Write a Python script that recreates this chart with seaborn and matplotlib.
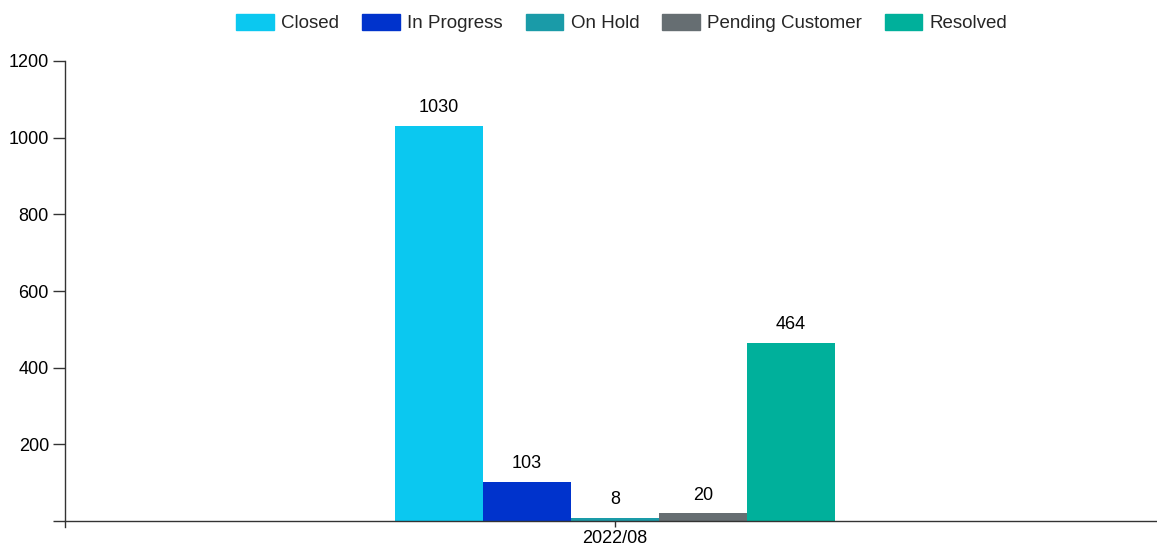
import matplotlib
matplotlib.use("Agg")
import matplotlib.pyplot as plt
import seaborn as sns
import pandas as pd

# Ticket counts per status for the month
months = ["2022/08"]
statuses = ["Closed", "In Progress", "On Hold", "Pending Customer", "Resolved"]
counts = [1030, 103, 8, 20, 464]
colors = ["#0BC8F0", "#0033CC", "#1A9BA8", "#666E72", "#00B09B"]

df = pd.DataFrame({"month": months * len(statuses), "status": statuses, "count": counts})

sns.set_style("white")
plt.rcParams["font.family"] = ["Liberation Sans", "DejaVu Sans"]

W, H, DPI = 1157, 547, 100
fig = plt.figure(figsize=(W / DPI, H / DPI), dpi=DPI)
ax = fig.add_axes([65 / W, 1 - 521 / H, (1165 - 65) / W, (521 - 61) / H])

sns.barplot(data=df, x="month", y="count", hue="status", hue_order=statuses,
            palette=colors, width=0.4, gap=0, saturation=1, legend=False, ax=ax,
            linewidth=0, errorbar=None)

ax.set_ylim(0, 1200)
ax.set_xlim(-0.5, 0.5)
ax.set_xlabel("")
ax.set_ylabel("")

yticks = [0, 200, 400, 600, 800, 1000, 1200]
ax.set_yticks(yticks)
ax.set_yticklabels(["" if v == 0 else str(v) for v in yticks])
ax.tick_params(axis="y", left=True, length=8.6, width=1, color="#333333", labelsize=13,
               pad=3, labelcolor="black")
ax.tick_params(axis="x", bottom=True, length=4.3, width=1, color="#333333", labelsize=13,
               pad=2.5, labelcolor="black")

for side in ["top", "right"]:
    ax.spines[side].set_visible(False)
for side in ["left", "bottom"]:
    ax.spines[side].set_color("#333333")
    ax.spines[side].set_linewidth(1)
# outer tick below the axis corner
ax.spines["left"].set_bounds(-6 * 1200 / 460, 1200)

# value labels above each bar
for patch, v in zip(ax.patches, counts):
    cx = patch.get_x() + patch.get_width() / 2
    ax.annotate(str(v), (cx, patch.get_height()), xytext=(0, 7),
                textcoords="offset points", ha="center", va="bottom",
                fontsize=13, color="black", annotation_clip=False)

handles = [plt.Rectangle((0, 0), 1, 1, color=c) for c in colors]
fig.legend(handles, statuses, loc="center", bbox_to_anchor=(622 / W, 1 - 23 / H),
           ncol=5, frameon=False, fontsize=13.5, handlelength=2.0, handleheight=1.0,
           handletextpad=0.4, columnspacing=1.22, borderaxespad=0)

fig.savefig("out.png", dpi=DPI)
